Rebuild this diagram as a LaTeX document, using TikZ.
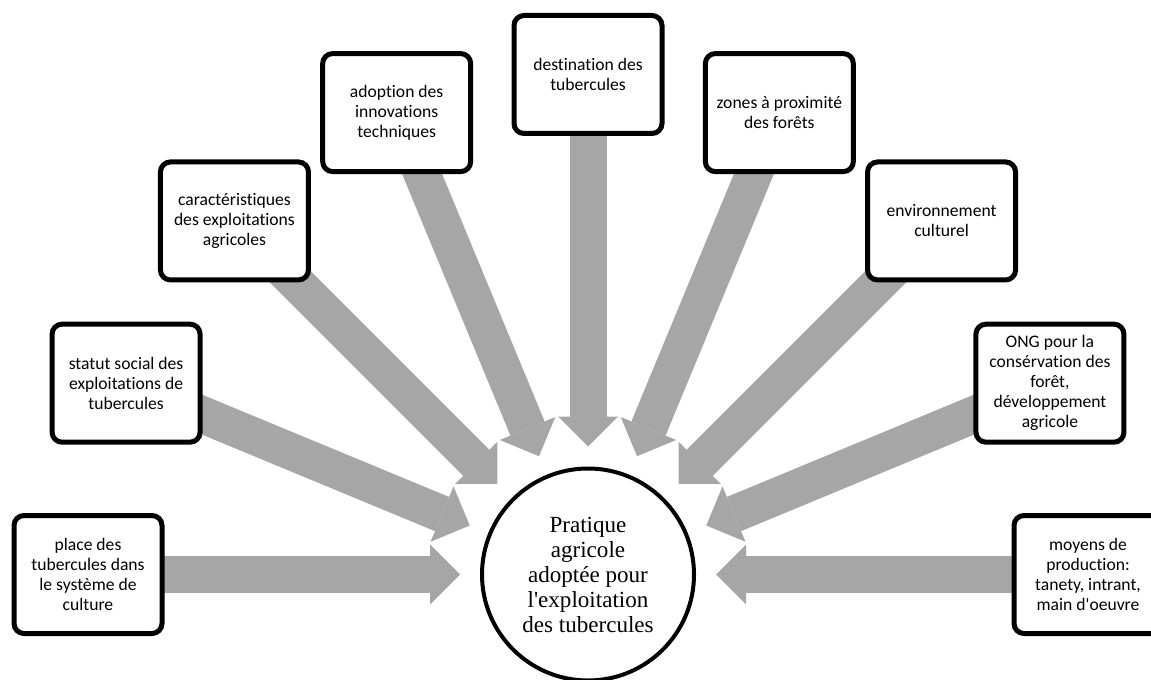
\documentclass[tikz,border=0pt]{standalone}
\usepackage{fontspec}
\setmainfont[Ligatures=NoCommon]{Carlito}
\newfontfamily\timesfont{Liberation Serif}
\usepackage{tikz}
\usetikzlibrary{calc}
\usetikzlibrary{arrows.meta}
\usetikzlibrary{backgrounds}
\definecolor{flechegris}{HTML}{A6A6A6}
\tikzset{
  facteur/.style={
    draw, line width=3.75pt, rounded corners=7.5pt, fill=white,
    minimum width=111pt, minimum height=88.5pt, inner sep=2pt,
    align=center, font=\fontsize{13.2}{15}\selectfont
  },
  pratique/.style={
    circle, draw, line width=3pt, fill=white, minimum size=159pt,
    inner sep=0pt, align=center, font=\timesfont\fontsize{17.3}{18.75}\selectfont
  },
  fleche/.style={
    draw=flechegris, line width=27.75pt,
    -{Triangle[length=22.5pt,width=45pt,line width=0pt]}
  }
}

\begin{document}
\begin{tikzpicture}[x=0.75pt,y=0.75pt]
		\useasboundingbox (0,0) rectangle (1151,679);
		\node[pratique] (c) at (588,104.5) {Pratique\\agricole\\adoptée pour\\l\textquotesingle exploitation\\des tubercules};
		%
		\node[facteur] (f1) at ($(c)+(180:500)$) {place des\\tubercules dans\\le système de\\culture};
		\node[facteur] (f2) at ($(c)+(157.5:500)$) {statut social des\\exploitations de\\tubercules};
		\node[facteur] (f3) at ($(c)+(135:500)$) {caractéristiques\\des exploitations\\agricoles};
		\node[facteur] (f4) at ($(c)+(112.5:500)$) {adoption des\\innovations\\techniques};
		\node[facteur] (f5) at ($(c)+(90:500)$) {destination des\\tubercules};
		\node[facteur] (f6) at ($(c)+(67.5:500)$) {zones à proximité\\des forêts};
		\node[facteur] (f7) at ($(c)+(45:500)$) {environnement\\culturel};
		\node[facteur] (f8) at ($(c)+(22.5:500)$) {ONG pour la\\consérvation des\\forêt,\\développement\\agricole};
		\node[facteur] (f9) at ($(c)+(0:500)$) {moyens de\\production:\\tanety, intrant,\\main d\textquotesingle oeuvre};
		%
		\begin{pgfonlayer}{background}
			\foreach \i/\a in {1/180,2/157.5,3/135,4/112.5,5/90,6/67.5,7/45,8/22.5,9/0} {
				\coordinate (t\i) at ($(c)+(\a:128)$);
				\draw[fleche] (f\i.center) -- (t\i);
			}
		\end{pgfonlayer}
	\end{tikzpicture}
\end{document}
